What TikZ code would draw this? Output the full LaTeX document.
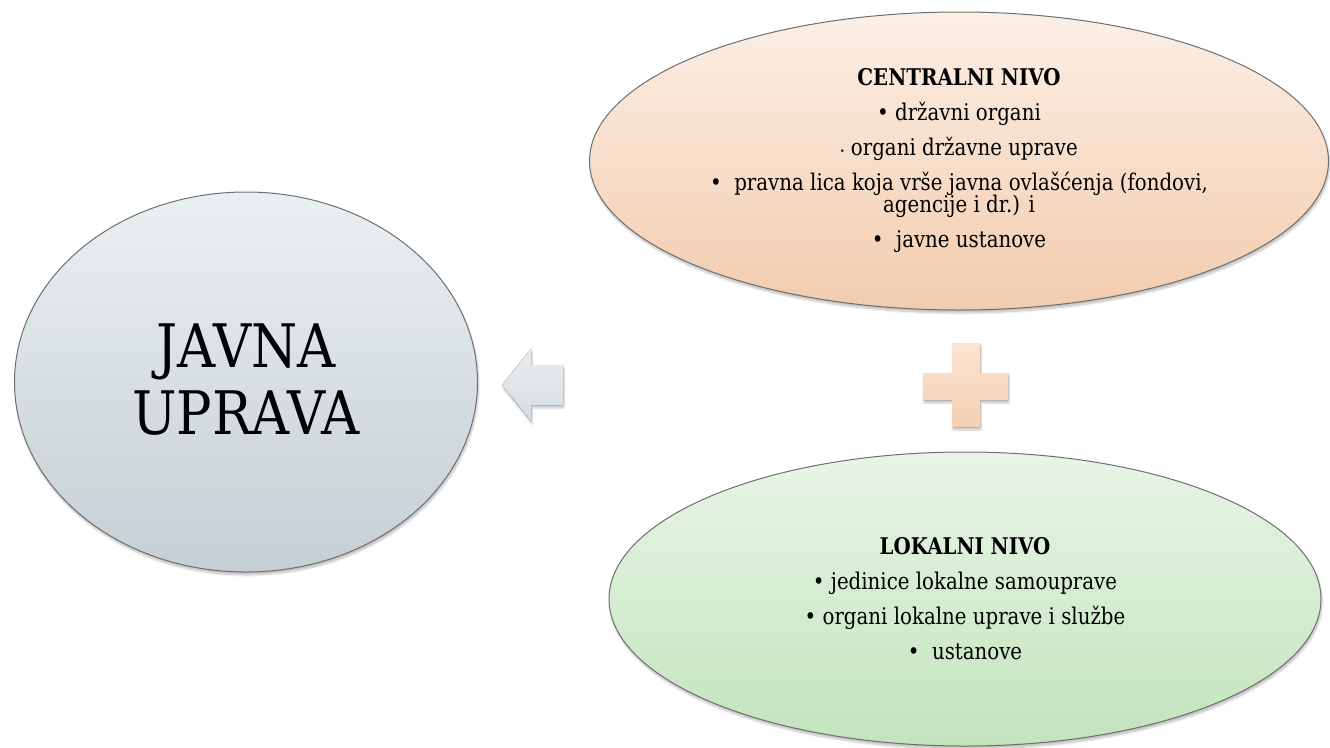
\documentclass[tikz,border=0pt]{standalone}
\usepackage{fontspec}
\setmainfont{DejaVu Serif}[FakeStretch=0.86]
\usetikzlibrary{shapes.geometric,shadows.blur}
\newcommand\tightlines{\lineskiplimit=-30pt\relax}
\definecolor{edge}{HTML}{6E6E6E}
\definecolor{grayTop}{HTML}{EAEFF2}
\definecolor{grayBot}{HTML}{C6CFD4}
\definecolor{peachTop}{HTML}{FBEFE6}
\definecolor{peachBot}{HTML}{F3CCAE}
\definecolor{greenTop}{HTML}{E9F5E7}
\definecolor{greenBot}{HTML}{C2E4BC}
\definecolor{arrowTop}{HTML}{E8EDF0}
\definecolor{arrowBot}{HTML}{D5DCE1}
\definecolor{plusTop}{HTML}{FBE4D3}
\definecolor{plusBot}{HTML}{F5CFB2}
\tikzset{
  blob/.style={ellipse, draw=edge, line width=1pt, inner sep=0pt,
    blur shadow={shadow xshift=1pt, shadow yshift=-3pt, shadow blur steps=6, shadow opacity=25}},
  itemtext/.style={align=center, font=\fontsize{23}{22}\selectfont\tightlines},
  softshadow/.style={blur shadow={shadow xshift=1pt, shadow yshift=-3pt, shadow blur steps=5, shadow opacity=22}},
}
\begin{document}
\begin{tikzpicture}[x=1pt,y=-1pt]
\useasboundingbox (0,0) rectangle (1330,747);
% result circle
\node[blob, top color=grayTop, bottom color=grayBot,
  minimum width=463pt, minimum height=380pt] (result) at (246,382) {};
\node[font=\fontsize{60}{67}\selectfont\addfontfeature{FakeStretch=0.88}, align=center]
  (resulttext) at ([yshift=2pt]result.center) {JAVNA\\UPRAVA};
% arrow (pointing left, towards the result)
\coordinate (arrowtip) at (502,385);
\fill[top color=arrowTop, bottom color=arrowBot, softshadow]
  (arrowtip) -- ++(29,-36) -- ++(0,16) -- ++(32,0) -- ++(0,40) -- ++(-32,0) -- ++(0,16) -- cycle;
% plus
\coordinate (plus) at (966,385);
\fill[top color=plusTop, bottom color=plusBot, softshadow]
  ([shift={(-14,-42)}]plus) -- ++(28,0) -- ++(0,30) -- ++(28,0) -- ++(0,27) -- ++(-28,0) -- ++(0,27)
  -- ++(-28,0) -- ++(0,-27) -- ++(-29,0) -- ++(0,-27) -- ++(29,0) -- cycle;
% top ellipse
\node[blob, top color=peachTop, bottom color=peachBot,
  minimum width=739pt, minimum height=298pt] (central) at (959,161) {};
\node[itemtext] (centraltext) at (central.center) {%
  \textbf{CENTRALNI NIVO}\\[13pt]
  • državni organi\\[13pt]
  \raisebox{1.5pt}{\fontsize{9}{9}\selectfont•} organi državne uprave\\[13pt]
  •\ \ pravna lica koja vrše javna ovlašćenja (fondovi,\\
  agencije i dr.) i\\[13pt]
  •\ \ javne ustanove};
% bottom ellipse
\node[blob, top color=greenTop, bottom color=greenBot,
  minimum width=712pt, minimum height=294pt] (lokalni) at (965,599) {};
\node[itemtext] (lokalnitext) at (lokalni.center) {%
  \textbf{LOKALNI NIVO}\\[13pt]
  • jedinice lokalne samouprave\\[13pt]
  • organi lokalne uprave i službe\\[13pt]
  •\ \ ustanove};
\end{tikzpicture}
\end{document}
